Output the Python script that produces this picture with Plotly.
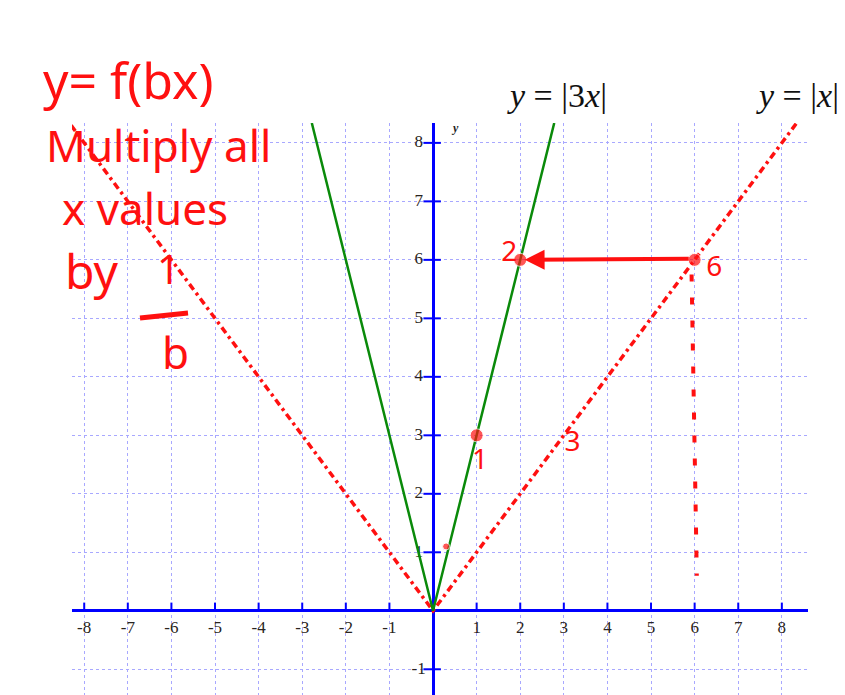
import plotly.graph_objects as go

# axis ticks
x_ticks = [-8, -7, -6, -5, -4, -3, -2, -1, 1, 2, 3, 4, 5, 6, 7, 8]
y_ticks = [-1, 1, 2, 3, 4, 5, 6, 7, 8]

# y = |x|  (red dash-dot)
abs_x_x = [-8.3, 0, 8.5]
abs_x_y = [8.3, 0, 8.5]

# y = |3x|  (green)
abs_3x_x = [-2.78, 0, 2.78]
abs_3x_y = [8.34, 0, 8.34]

# hand drawn marks
dot_x = [0.3, 1, 2, 6]
dot_y = [1.1, 3, 6, 6]
drop_x = [5.93, 6.05]
drop_y = [5.75, 0.6]
mark_labels = ["1", "2", "3", "6"]
mark_x = [1.08, 1.75, 3.2, 6.45]
mark_y = [2.55, 6.1, 2.85, 5.85]

X_RANGE = [-8.28, 8.6]
Y_RANGE = [-1.44, 8.34]
# page body has an 8px margin, so the figure starts at (8, 8)
OFF = 8
W, H = 845 - OFF, 695 - OFF
L, R, T, B = 72 - OFF, 37, 123 - OFF, 0

BLUE = "#0000ff"
RED = "#ff1010"
GREEN = "#0a8a0a"


def paper(px, py):
    # pixel position in the screenshot -> paper coords
    return (px - OFF - L) / (W - L - R), (H - B - (py - OFF)) / (H - T - B)


fig = go.Figure()

# tick marks on the axes
tx, ty = [], []
for t in x_ticks:
    tx += [t, t, None]
    ty += [0, 0.14, None]
for t in y_ticks:
    tx += [-0.22, 0.18, None]
    ty += [t, t, None]
fig.add_trace(go.Scatter(x=tx, y=ty, mode="lines", line=dict(color=BLUE, width=2), hoverinfo="skip"))

# tick labels
tick_font = dict(family="Liberation Serif", size=17, color="#2a2420")
fig.add_trace(
    go.Scatter(
        x=x_ticks,
        y=[-0.3] * len(x_ticks),
        text=[str(t) for t in x_ticks],
        mode="text",
        textfont=tick_font,
        hoverinfo="skip",
    )
)
fig.add_trace(
    go.Scatter(
        x=[-0.33] * len(y_ticks),
        y=y_ticks,
        text=[str(t) for t in y_ticks],
        mode="text",
        textfont=tick_font,
        hoverinfo="skip",
    )
)

fig.add_trace(
    go.Scatter(x=abs_x_x, y=abs_x_y, mode="lines",
               line=dict(color=RED, width=3.5, dash="7px,4px,3px,4px"), hoverinfo="skip")
)
fig.add_trace(
    go.Scatter(x=abs_3x_x, y=abs_3x_y, mode="lines",
               line=dict(color=GREEN, width=2.5), hoverinfo="skip")
)

# hand drawn bits
fig.add_trace(
    go.Scatter(x=drop_x, y=drop_y, mode="lines",
               line=dict(color=RED, width=4, dash="7px,16px"), hoverinfo="skip")
)
fig.add_trace(
    go.Scatter(x=dot_x, y=dot_y, mode="markers",
               marker=dict(color=RED, size=[7, 13, 13, 13]), hoverinfo="skip")
)
fig.add_trace(
    go.Scatter(x=mark_x, y=mark_y, text=mark_labels, mode="text",
               textfont=dict(family="Noto Sans", size=28, color=RED), hoverinfo="skip")
)

# arrow 6 -> 2
fig.add_annotation(
    x=2.1, y=6, ax=5.9, ay=6.02, xref="x", yref="y", axref="x", ayref="y",
    text="", showarrow=True, arrowhead=2, arrowsize=1, arrowwidth=4, arrowcolor=RED,
)

fig.add_annotation(
    x=0.5, y=8.25, text="<b><i>y</i></b>", showarrow=False,
    font=dict(family="Liberation Serif", size=12, color="#222"),
)

# equation labels
for txt, px in [("<i>y</i> = |3<i>x</i>|", 557), ("<i>y</i> = |<i>x</i>|", 797)]:
    ex, ey = paper(px, 95)
    fig.add_annotation(
        x=ex, y=ey, xref="paper", yref="paper", text=txt, showarrow=False,
        xanchor="center", yanchor="middle",
        font=dict(family="Liberation Serif", size=34, color="#111"),
    )

# handwritten note
hand = dict(family="Noto Sans", color=RED)
for txt, px, py, size in [
    ("y= f(bx)", 128, 80, 50),
    ("Multiply all", 158, 145, 44),
    ("x values", 145, 208, 44),
    ("by", 92, 270, 48),
    ("1", 168, 268, 40),
    ("b", 175, 352, 44),
]:
    hx, hy = paper(px, py)
    fig.add_annotation(
        x=hx, y=hy, xref="paper", yref="paper", text=txt, showarrow=False,
        xanchor="center", yanchor="middle",
        font=dict(size=size, **hand),
    )
bx0, by0 = paper(140, 318)
bx1, by1 = paper(188, 313)
fig.add_shape(type="line", xref="paper", yref="paper", x0=bx0, y0=by0, x1=bx1, y1=by1,
              line=dict(color=RED, width=5))

fig.update_xaxes(
    range=X_RANGE, dtick=1, tick0=0, showgrid=True, gridcolor="#a8a8ff", griddash="dot",
    gridwidth=1, zeroline=True, zerolinecolor=BLUE, zerolinewidth=3,
    showticklabels=False, ticks="",
)
fig.update_yaxes(
    range=Y_RANGE, dtick=1, tick0=0, showgrid=True, gridcolor="#a8a8ff", griddash="dot",
    gridwidth=1, zeroline=True, zerolinecolor=BLUE, zerolinewidth=3,
    showticklabels=False, ticks="",
)
fig.update_layout(
    width=W, height=H,
    margin=dict(l=L, r=R, t=T, b=B),
    plot_bgcolor="white", paper_bgcolor="white",
    showlegend=False,
)

fig.write_html("out.html")
